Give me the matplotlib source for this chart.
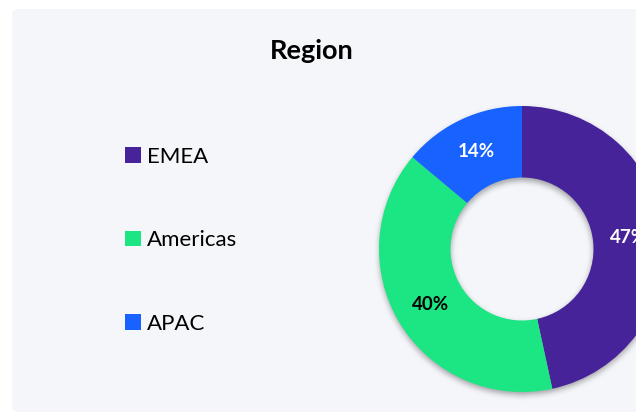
import numpy as np
import matplotlib
matplotlib.use("Agg")
import matplotlib.pyplot as plt
from matplotlib.patches import FancyBboxPatch, Patch

categories = ["EMEA", "Americas", "APAC"]
values = [46.6, 39.5, 13.9]
colors = ["#47239a", "#1ce583", "#1862ff"]
label_colors = ["white", "black", "white"]
title = "Region"

plt.rcParams['font.family'] = ['Lato', 'DejaVu Sans']

W, H = 636, 412
fig = plt.figure(figsize=(W / 100, H / 100), dpi=100, facecolor="white")

# panel background
bg = "#f5f6fa"
panel = FancyBboxPatch((12 / W, 0 / H), 1.0, (H - 9) / H,
                       boxstyle="round,pad=0,rounding_size=0.012",
                       transform=fig.transFigure, facecolor=bg, edgecolor="none", zorder=-10)
fig.patches.append(panel)

# donut axes
R = 143.0
cx, cy = 522.0, 249.0
half = 160.0
ax = fig.add_axes([(cx - half) / W, (H - cy - half) / H, 2 * half / W, 2 * half / H])
ax.set_facecolor("none")
ax.axis("off")
ax.set_zorder(1)

# soft shadow
n = 340
g = np.linspace(-half / R, half / R, n)
X, Y = np.meshgrid(g, g)
d = 3.0 / R
rr = np.sqrt(X ** 2 + (Y + d) ** 2)
mask = ((rr <= 1.0) & (rr >= 0.5)).astype(float)
sig = 3.0 * n / (2 * half)
k = np.arange(-12, 13)
kern = np.exp(-k ** 2 / (2 * sig ** 2))
kern /= kern.sum()
blur = np.apply_along_axis(lambda m: np.convolve(m, kern, mode="same"), 0, mask)
blur = np.apply_along_axis(lambda m: np.convolve(m, kern, mode="same"), 1, blur)
rgba = np.zeros((n, n, 4))
rgba[..., 3] = 0.35 * blur
ax.imshow(rgba, extent=(-half / R, half / R, -half / R, half / R), origin="lower",
          zorder=1, interpolation="bilinear")

wedges, texts, autotexts = ax.pie(values, colors=colors, startangle=90, counterclock=False,
                                  radius=1.0, wedgeprops=dict(width=0.5, linewidth=0),
                                  autopct="%.0f%%", pctdistance=0.75,
                                  textprops=dict(fontsize=13.5, fontweight="bold"))
for w in wedges:
    w.set_zorder(2)
for t, c in zip(autotexts, label_colors):
    t.set_color(c)
    t.set_zorder(3)
ax.set_xlim(-half / R, half / R)
ax.set_ylim(-half / R, half / R)
ax.set_aspect("equal")

# title
fig.text(312 / W, (H - 51) / H, title, ha="center", va="center",
         fontsize=19.5, fontweight="bold", color="black")

# legend
handles = [Patch(facecolor=c, edgecolor="none") for c in colors]
fig.legend(handles, categories, loc="upper left",
           bbox_to_anchor=(125 / W, (H - 147) / H), frameon=False,
           fontsize=16, labelspacing=2.85, handlelength=0.7, handleheight=0.7,
           handletextpad=0.3, borderpad=0, borderaxespad=0)

fig.savefig("out.png", dpi=100, facecolor="white")
